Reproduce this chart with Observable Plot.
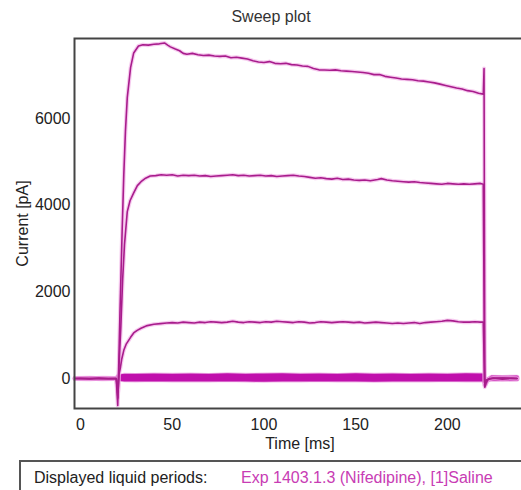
<!DOCTYPE html>
<html>
<head>
<meta charset="utf-8">
<script src="https://cdn.jsdelivr.net/npm/d3@7"></script>
<script src="https://cdn.jsdelivr.net/npm/@observablehq/plot@0.6"></script>
<style>
  html, body { margin: 0; padding: 0; background: #fff; }
  body { width: 521px; height: 490px; position: relative; overflow: hidden; font-family: "Liberation Sans", Arial, sans-serif; }
  #title { position: absolute; left: 171px; width: 200px; top: 7px; line-height: 20px; text-align: center; font-size: 16px; color: #333; }
  #chart { position: absolute; left: 0; top: 0; }
  #legend { position: absolute; left: 19px; top: 460px; width: 520px; height: 40px; border: 2px solid #555; box-sizing: border-box; font-size: 16px; }
  #legend span { position: absolute; top: 7px; line-height: 18px; white-space: nowrap; }
</style>
</head>
<body>
<div id="title">Sweep plot</div>
<div id="chart"></div>
<div id="legend"><span style="left:13px;color:#222">Displayed liquid periods:</span><span style="left:220px;color:#c83cb4">Exp 1403.1.3 (Nifedipine), [1]Saline</span></div>
<script>
// ---- data ----
const xTicks = [0, 50, 100, 150, 200];
const yTicks = [0, 2000, 4000, 6000];

const tA = [-3,0,5,10,15,19.5,20.3,20.8,21.5,22.7,23.6,24.5,25.5,27.3,29,31.6,34,37,40,43,45.8,47.5,49,51.7,54,56,58,61,64,67,70,73,76,79,82,85,88,91,94,97,100,103,106,109,112,115,118,121,124,127,130,133,136,139,142,145,148,151,154,157,160,163,166,169,172,175,178,181,184,187,190,193,196,199,202,205,208,211,214,217,219.6,220,220.4,221,222,225,230,235,238];
const vA = [0,5,-5,8,-6,0,-620,200,1500,3400,4700,5700,6480,7170,7510,7670,7700,7690,7710,7720,7740,7690,7650,7600,7560,7500,7480,7500,7470,7450,7460,7440,7430,7440,7400,7410,7390,7370,7330,7300,7290,7310,7270,7260,7270,7240,7230,7210,7200,7150,7120,7115,7110,7120,7100,7090,7080,7070,7060,7040,7010,7010,6970,6950,6930,6910,6900,6890,6870,6860,6840,6820,6790,6760,6730,6700,6680,6640,6620,6580,6560,7150,-200,-120,-30,10,-15,5,0];

const tB = [-3,5,12,19.5,20.4,21,22,23,24,25.5,27,29,31,33,35.5,38,41,44,47,50,53,56,59,62,65,68,71,74,77,80,83,86,89,92,95,98,101,104,107,110,113,116,119,122,125,128,131,134,137,140,143,146,149,152,155,158,162,164,167,170,173,176,179,182,185,188,191,194,197,200,203,206,209,212,215,218,219.6,220.3,221,223,230,238];
const vB = [0,-8,6,0,-450,300,1200,2300,3100,3850,4100,4280,4450,4540,4620,4670,4680,4700,4690,4700,4670,4690,4680,4690,4670,4680,4660,4670,4680,4690,4700,4680,4690,4670,4680,4690,4670,4680,4660,4670,4680,4690,4670,4660,4640,4620,4630,4610,4600,4620,4590,4600,4580,4570,4580,4560,4590,4610,4580,4560,4550,4540,4530,4540,4520,4510,4500,4490,4480,4500,4490,4480,4490,4480,4490,4500,4480,-100,-60,0,8,0];

const tC = [-3,5,12,19.5,20.5,21,21.8,22.5,23.6,25,27.3,29,30.9,33,36.4,40,43.6,47,50,53,56,59,62,65,68,71,74,77,80,83,86,89,92,95,98,101,104,107,110,113,116,119,122,125,128,131,134,137,140,143,146,149,152,155,158,161,164,167,170,173,176,179,182,185,188,191,194,197,200,203,206,209,212,215,218,219.6,220.3,221,223,230,238];
const vC = [0,6,-5,0,-300,100,260,450,650,800,950,1050,1110,1160,1220,1250,1265,1280,1290,1280,1300,1290,1280,1300,1290,1310,1300,1290,1300,1320,1300,1290,1310,1300,1290,1310,1300,1320,1310,1300,1290,1310,1300,1280,1290,1310,1300,1290,1300,1310,1300,1290,1300,1280,1290,1300,1290,1280,1270,1280,1270,1280,1290,1270,1290,1300,1310,1320,1340,1330,1310,1300,1300,1310,1300,1300,-80,-40,0,10,0];

// near-zero sweeps (the thick band)
const tD = [-3,5,12,19.5,20.5,24,30,40,50,60,70,80,90,100,110,120,130,140,150,160,170,180,190,200,210,219.6,220.5,221.5,224,230,238];
const vD1 = [0,4,-4,0,50,75,70,80,75,80,70,85,75,80,85,75,80,70,85,75,80,70,80,75,85,80,-150,-60,30,25,30];
const vD2 = [0,-3,5,0,15,25,20,30,20,25,20,30,25,20,30,25,20,25,30,20,25,20,25,30,20,25,-100,-30,0,-5,0];
const vD3 = [0,2,-2,0,-15,-30,-35,-25,-35,-30,-35,-25,-35,-40,-30,-35,-25,-35,-30,-40,-35,-30,-35,-25,-35,-30,-60,-20,-15,-20,-15];

const traces = [
  ["A", tA, vA], ["B", tB, vB], ["C", tC, vC]
];
const band = [["D1", tD, vD1], ["D2", tD, vD2], ["D3", tD, vD3]];
const toRows = list => list.flatMap(([id, ts, vs]) => ts.map((t, i) => ({id, t, v: vs[i]})));
const rows = toRows(traces);
const bandRows = toRows(band);

const chart = Plot.plot({
  width: 521,
  height: 460,
  marginLeft: 74,
  marginRight: -4,
  marginTop: 38,
  marginBottom: 52,
  style: {fontSize: "16px", fontFamily: "Liberation Sans, Arial, sans-serif", color: "#222", background: "transparent"},
  x: {domain: [-3.27, 242.6], ticks: xTicks, tickSize: 0, tickPadding: 10, label: "Time [ms]", labelAnchor: "center", labelArrow: "none", labelOffset: 40},
  y: {domain: [-692, 7843], ticks: yTicks, tickSize: 0, tickPadding: 4, tickFormat: d => String(d), label: "Current [pA]", labelAnchor: "center", labelArrow: "none", labelOffset: 58},
  marks: [
    Plot.lineY(bandRows, {x: "t", y: "v", z: "id", stroke: "#e890dc", strokeWidth: 5, strokeOpacity: 0.6}),
    Plot.lineY(bandRows, {x: "t", y: "v", z: "id", stroke: "#c010ac", strokeWidth: 3.2}),
    Plot.lineY(rows, {x: "t", y: "v", z: "id", stroke: "#f0a8e4", strokeWidth: 4, strokeOpacity: 0.6}),
    Plot.lineY(rows, {x: "t", y: "v", z: "id", stroke: "#a81c8c", strokeWidth: 1.6}),
    Plot.frame({stroke: "#444", strokeWidth: 2})
  ]
});
document.getElementById("chart").appendChild(chart);
</script>
</body>
</html>
